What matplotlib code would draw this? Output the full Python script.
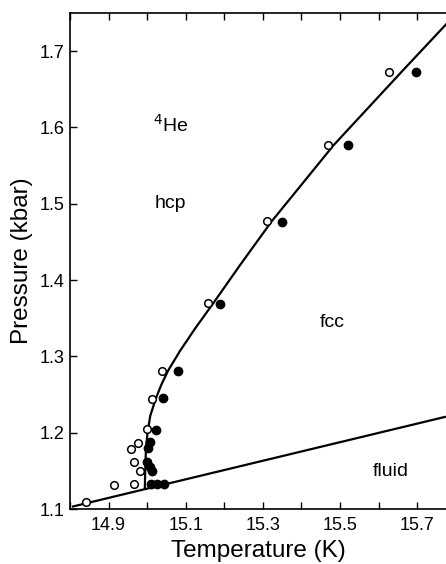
import matplotlib
matplotlib.use("Agg")
import matplotlib.pyplot as plt
from matplotlib.ticker import MultipleLocator, FixedLocator

plt.rcParams["font.family"] = ["Liberation Sans", "DejaVu Sans"]

# open circles
t_open = [14.841, 14.913, 14.967, 14.982, 14.967, 14.959, 14.977, 15.000,
          15.013, 15.038, 15.159, 15.310, 15.469, 15.626]
p_open = [1.109, 1.131, 1.133, 1.150, 1.162, 1.179, 1.187, 1.205,
          1.244, 1.281, 1.370, 1.477, 1.577, 1.673]

# filled circles
t_fill = [15.010, 15.025, 15.044, 15.013, 15.008, 15.000, 15.003, 15.008,
          15.022, 15.041, 15.080, 15.190, 15.349, 15.520, 15.697]
p_fill = [1.133, 1.133, 1.133, 1.150, 1.155, 1.162, 1.180, 1.188,
          1.204, 1.245, 1.281, 1.369, 1.476, 1.577, 1.673]

# melting line (fluid / solid)
t_melt = [14.805, 15.775]
p_melt = [1.103, 1.221]

# hcp / fcc boundary
t_hf = [14.994, 14.995, 14.997, 15.001, 15.008, 15.022, 15.036, 15.054,
        15.085, 15.125, 15.172, 15.240, 15.323, 15.484, 15.660, 15.775]
p_hf = [1.127, 1.150, 1.180, 1.200, 1.222, 1.244, 1.262, 1.281,
        1.307, 1.337, 1.370, 1.419, 1.477, 1.577, 1.673, 1.735]

fig = plt.figure(figsize=(4.46, 5.64), dpi=100)
ax = fig.add_axes([0.157, 0.0975, 0.843, 0.8795])

ax.plot(t_melt, p_melt, color="black", lw=1.6, solid_capstyle="butt")
ax.plot(t_hf, p_hf, color="black", lw=1.6)
ax.plot(t_open, p_open, "o", ms=5.5, mfc="white", mec="black", mew=1.1)
ax.plot(t_fill, p_fill, "o", ms=6, mfc="black", mec="black")

ax.set_xlim(14.8, 15.775)
ax.set_ylim(1.1, 1.75)

ax.xaxis.set_major_locator(FixedLocator([14.9, 15.1, 15.3, 15.5, 15.7]))
ax.xaxis.set_minor_locator(MultipleLocator(0.1))
ax.yaxis.set_major_locator(MultipleLocator(0.1))
ax.set_xticklabels(["14.9", "15.1", "15.3", "15.5", "15.7"])
ax.tick_params(which="both", direction="in", top=True, right=False,
               length=5, width=1, labelsize=13, pad=6)
ax.tick_params(axis="y", pad=4)

for s in ("left", "bottom", "top"):
    ax.spines[s].set_linewidth(1.2)
ax.spines["right"].set_visible(False)

ax.set_xlabel("Temperature (K)", fontsize=17.5, labelpad=4)
ax.set_ylabel("Pressure (kbar)", fontsize=17.5, labelpad=5)

ax.text(15.06, 1.603, r"$^4$He", fontsize=14, ha="center", va="center")
ax.text(15.06, 1.5, "hcp", fontsize=14, ha="center", va="center")
ax.text(15.48, 1.344, "fcc", fontsize=14, ha="center", va="center")
ax.text(15.633, 1.149, "fluid", fontsize=14, ha="center", va="center")

fig.savefig("out.png", dpi=100)
